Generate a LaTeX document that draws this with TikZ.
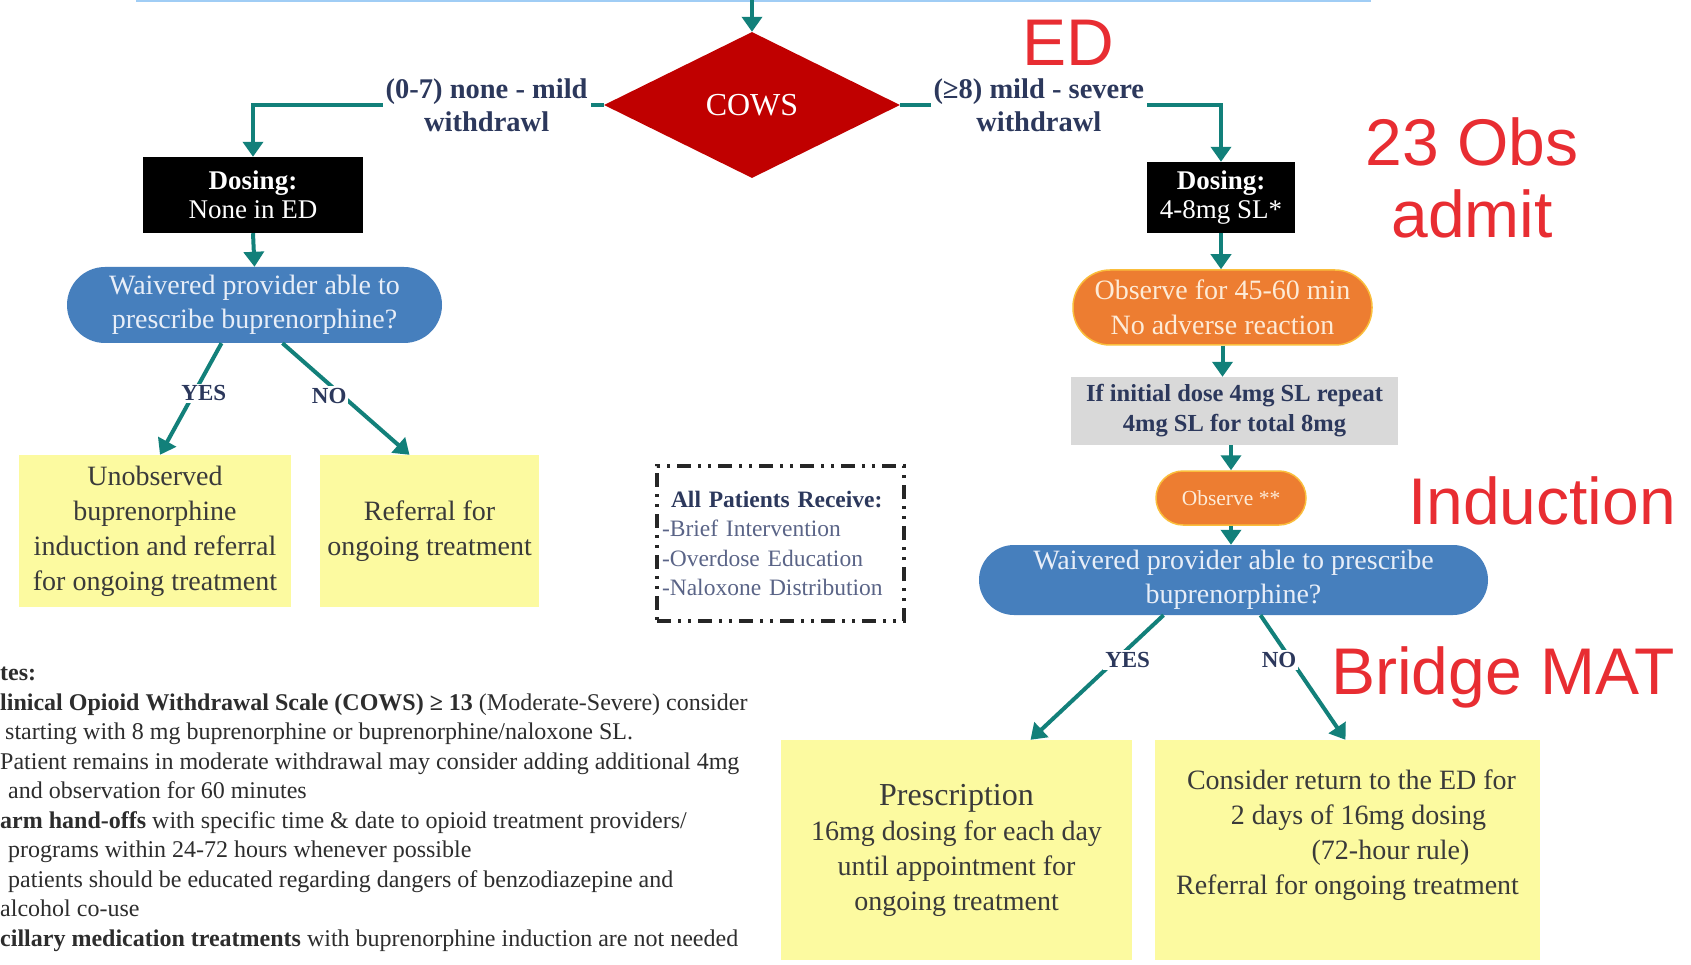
\documentclass[tikz,border=0pt]{standalone}
\usepackage{fontspec}
\setmainfont{Liberation Serif}
\newfontfamily\annfont{Liberation Sans}
\usetikzlibrary{arrows.meta,shapes.geometric}
\newcommand\fsz[2]{\fontsize{#1}{#2}\selectfont}
\definecolor{teal0}{RGB}{18,128,122}
\definecolor{cowsred}{RGB}{192,0,0}
\definecolor{pillblue}{RGB}{70,127,189}
\definecolor{pilltext}{RGB}{232,238,248}
\definecolor{orng}{RGB}{237,125,49}
\definecolor{orngedge}{RGB}{250,190,60}
\definecolor{orngtext}{RGB}{253,235,215}
\definecolor{yel}{RGB}{252,250,160}
\definecolor{graybox}{RGB}{217,217,217}
\definecolor{navy0}{RGB}{44,56,92}
\definecolor{boxtext}{RGB}{58,58,58}
\definecolor{itemtext}{RGB}{90,100,135}
\definecolor{notetext}{RGB}{45,45,45}
\definecolor{annred}{RGB}{232,45,50}
\definecolor{topblue}{RGB}{160,205,245}
\begin{document}
\begin{tikzpicture}[x=1pt,y=-1pt,
  conn/.style={line width=4pt, draw=teal0, -{Triangle[width=20pt,length=15pt]}},
  brlbl/.style={fill=white, inner sep=3pt, align=center, text=navy0, font=\bfseries\fsz{28.5}{33}},
  yn/.style={fill=white, inner sep=2pt, text=navy0, font=\bfseries\fsz{23}{26}},
  blackbox/.style={fill=black, text=white, inner sep=0pt, align=center, font=\fsz{27}{29}},
  bluepill/.style={fill=pillblue, text=pilltext, inner sep=0pt, align=center, font=\fsz{28}{34}},
  orgpill/.style={fill=orng, draw=orngedge, line width=1.5pt, text=orngtext, inner sep=0pt, align=center, font=\fsz{28}{35}},
  yelbox/.style={fill=yel, text=boxtext, inner sep=0pt, align=center, font=\fsz{28}{35}},
  greybox/.style={fill=graybox, text=navy0, inner sep=0pt, align=center, font=\bfseries\fsz{24.5}{30}},
  allbox/.style={draw=black!85, line width=4pt, dash pattern=on 14pt off 7pt on 3pt off 7pt on 3pt off 7pt, inner xsep=5pt, inner ysep=0pt, align=left, text=itemtext, font=\fsz{23.5}{29.5}},
  ann/.style={font=\annfont\fsz{66}{72}, text=annred, align=center, inner sep=0pt},
  topbox/.style={draw=topblue, line width=2pt}]
\useasboundingbox (0,0) rectangle (1691,965);
\clip (0,0) rectangle (1691,965);
\fill[white] (0,0) rectangle (1691,965);

% cut-off box at the top
\draw[topbox] (137,-40) rectangle (1370,1);
\coordinate (topin) at (752,0);

% COWS
\node[diamond, fill=cowsred, minimum width=296pt, minimum height=146pt, inner sep=0pt, text=white, font=\fsz{32}{36}] (cows) at (752,105) {COWS};
\draw[conn] (topin) -- (cows.north);

% left branch
\node[blackbox, minimum width=220pt, minimum height=76pt] (dosL) at (253,195) {\textbf{Dosing:}\\None in ED};
\draw[conn] (cows.west) -| node[brlbl, pos=0.167] (lblL) {(0-7) none - mild\\withdrawl} (dosL.north);
\node[bluepill, minimum width=375pt, minimum height=76pt, rounded corners=38pt] (pillL) at (254.5,305) {Waivered provider able to\\prescribe buprenorphine?};
\draw[conn] (dosL.south) -- (pillL.north);
\node[yelbox, minimum width=272pt, minimum height=152pt] (unobs) at (155,531) {Unobserved\\buprenorphine\\induction and referral\\for ongoing treatment};
\node[yelbox, minimum width=219pt, minimum height=152pt] (refL) at (429.5,531) {Referral for\\ongoing treatment};
\draw[conn] ([xshift=-33pt]pillL.south) -- node[yn, pos=0.45, xshift=10pt] (yesL) {YES} ([xshift=5pt]unobs.north);
\draw[conn] ([xshift=28pt]pillL.south) -- node[yn, pos=0.47, xshift=-13pt] (noL) {NO} ([xshift=-20pt]refL.north);

% all patients box
\node[allbox, text width=237pt, minimum height=155pt] (allp) at (780.5,543.5) {\hspace*{9pt}{\bfseries\color{navy0}All Patients Receive:}\\-Brief Intervention\\-Overdose Education\\-Naloxone Distribution};

% right branch
\node[blackbox, minimum width=148pt, minimum height=71pt] (dosR) at (1221,197.5) {\textbf{Dosing:}\\4-8mg SL*};
\draw[conn] (cows.east) -| node[brlbl, pos=0.216] (lblR) {(≥8) mild - severe\\withdrawl} (dosR.north);
\node[orgpill, minimum width=299pt, minimum height=75pt, rounded corners=37pt] (obs1) at (1222.5,307.5) {Observe for 45-60 min\\No adverse reaction};
\draw[conn] (dosR.south) -- (dosR.south |- obs1.north);
\node[greybox, minimum width=327pt, minimum height=68pt] (rep) at (1234.5,411) {If initial dose 4mg SL repeat\\4mg SL for total 8mg};
\draw[conn] (obs1.south) -- (obs1.south |- rep.north);
\node[orgpill, minimum width=150pt, minimum height=54pt, rounded corners=27pt, font=\fsz{21.5}{24}] (obs2) at (1231,498) {Observe **};
\draw[conn] (obs2.north |- rep.south) -- (obs2.north);
\node[bluepill, minimum width=509pt, minimum height=70pt, rounded corners=35pt] (pillR) at (1233.5,580) {Waivered provider able to prescribe\\buprenorphine?};
\draw[conn] (obs2.south) -- (obs2.south |- pillR.north);
\node[yelbox, minimum width=351pt, minimum height=220pt] (presc) at (956.5,850) {{\fsz{32}{37}Prescription}\\16mg dosing for each day\\until appointment for\\ongoing treatment};
\node[yelbox, minimum width=385pt, minimum height=220pt] (cons) at (1347.5,850) {\hspace*{8pt}Consider return to the ED for\\\hspace*{22pt}2 days of 16mg dosing\\\hspace*{86pt}(72-hour rule)\\Referral for ongoing treatment\\\mbox{}};
\draw[conn] ([xshift=-70pt]pillR.south) -- node[yn, pos=0.36, xshift=12pt] (yesR) {YES} ([xshift=74pt]presc.north);
\draw[conn] ([xshift=27pt]pillR.south) -- node[yn, pos=0.36, xshift=-12pt] (noR) {NO} ([xshift=-2pt]cons.north);

% notes
\node[anchor=north west, inner sep=0pt, align=left, text=notetext, font=\fsz{24}{29.5}] (notes) at (0,667) {\textbf{tes:}\\
\textbf{linical Opioid Withdrawal Scale (COWS) ≥ 13} (Moderate-Severe) consider\\
\hspace*{5pt}starting with 8 mg buprenorphine or buprenorphine/naloxone SL.\\
Patient remains in moderate withdrawal may consider adding additional 4mg\\
\hspace*{8pt}and observation for 60 minutes\\
\textbf{arm hand-offs} with specific time \& date to opioid treatment providers/\\
\hspace*{8pt}programs within 24-72 hours whenever possible\\
\hspace*{8pt}patients should be educated regarding dangers of benzodiazepine and\\
alcohol co-use\\
\textbf{cillary medication treatments} with buprenorphine induction are not needed};

% red annotations
\node[ann] (annED) at (1068,43) {ED};
\node[ann] (annObs) at (1472,178) {23 Obs\\admit};
\node[ann] (annInd) at (1542,501) {Induction};
\node[ann] (annBr) at (1503,677) {Bridge MAT};
\end{tikzpicture}
\end{document}
